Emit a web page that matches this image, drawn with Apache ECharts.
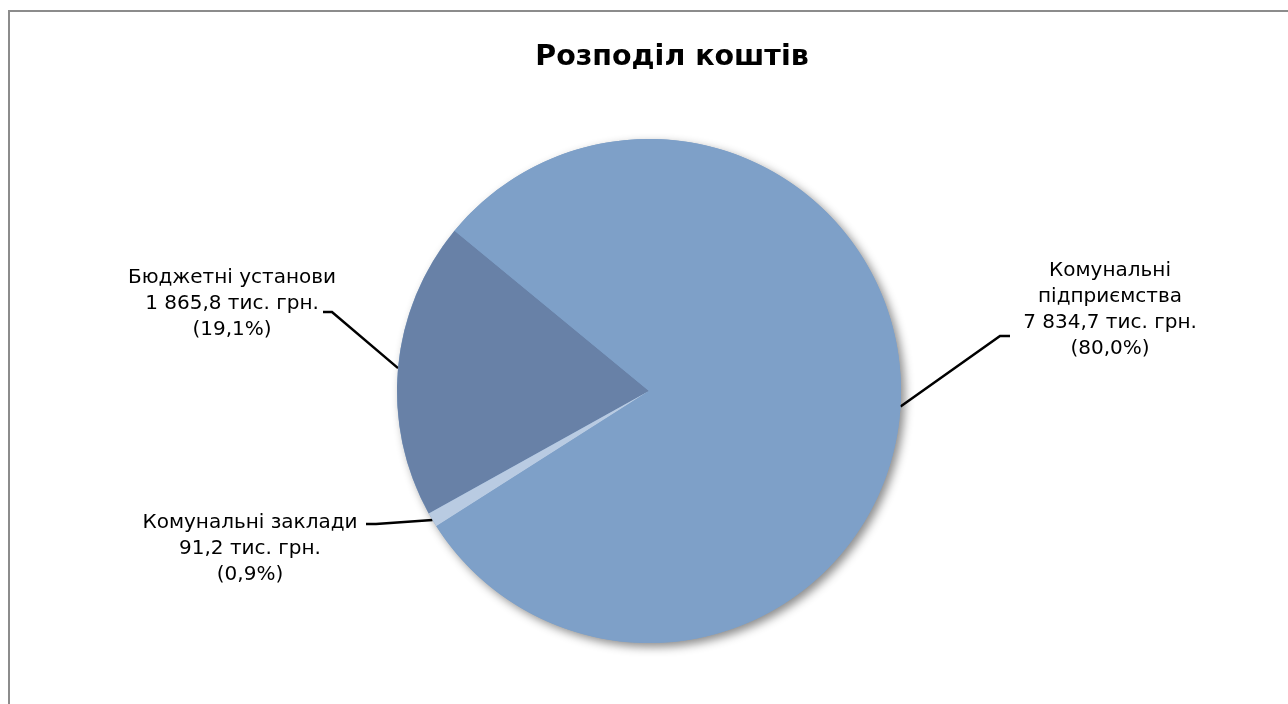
<!DOCTYPE html>
<html>
<head>
<meta charset="utf-8">
<script src="https://cdn.jsdelivr.net/npm/echarts@6/dist/echarts.min.js"></script>
<style>
html,body{margin:0;padding:0;background:#fff;}
#chart{width:1288px;height:704px;}
</style>
</head>
<body>
<div id="chart"></div>
<script>
// ---- data ----
var titleText = 'Розподіл коштів';
var categories = ['Бюджетні установи', 'Комунальні заклади', 'Комунальні\nпідприємства'];
var values = [1865.8, 91.2, 7834.7];
var unit = 'тис. грн.';
var colors = ['#6881A7', '#B9CBE2', '#7EA0C8'];

// ---- layout (not data) ----
var CX = 649, CY = 391, R = 252, START = 140.5;
var labelAnchors = [[232, 304], [250, 549], [1110, 310]];
var labelElbows = [
  [[332, 312], [323, 312]],
  [[376, 524], [366, 524]],
  [[1000, 336], [1010, 336]]
];

var total = values.reduce(function (a, b) { return a + b; }, 0);

function fmtNum(v) {
  var parts = v.toFixed(1).split('.');
  var intPart = parts[0].replace(/\B(?=(\d{3})+(?!\d))/g, ' ');
  return intPart + ',' + parts[1];
}
function fmtPct(v) {
  return (v / total * 100).toFixed(1).replace('.', ',') + '%';
}

// mid angles of slices (counter-clockwise from START)
var midAngles = [];
(function () {
  var a = START;
  for (var i = 0; i < values.length; i++) {
    var span = values[i] / total * 360;
    midAngles.push(a + span / 2);
    a += span;
  }
})();

var chart = echarts.init(document.getElementById('chart'));
var font = '"DejaVu Sans", Verdana, sans-serif';

chart.setOption({
  animation: false,
  backgroundColor: '#ffffff',
  title: {
    text: titleText,
    left: 667,
    top: 38,
    textAlign: 'center',
    textStyle: { fontFamily: font, fontWeight: 'bold', fontSize: 28.5, color: '#000' }
  },
  graphic: [{
    type: 'rect',
    shape: { x: 9, y: 11, width: 1400, height: 800 },
    style: { fill: 'none', stroke: '#8c8c8c', lineWidth: 2 },
    silent: true,
    z: 100
  }],
  series: [
    {
      type: 'pie',
      silent: true,
      center: [CX, CY],
      radius: R,
      z: 1,
      label: { show: false },
      labelLine: { show: false },
      itemStyle: {
        color: '#7EA0C8',
        shadowBlur: 10,
        shadowOffsetX: 4,
        shadowOffsetY: 4,
        shadowColor: 'rgba(0,0,0,0.45)'
      },
      emphasis: { disabled: true },
      data: [{ value: total, name: '' }]
    },
    {
      type: 'pie',
      z: 2,
      center: [CX, CY],
      radius: R,
      startAngle: START,
      clockwise: false,
      silent: true,
      emphasis: { disabled: true },
      itemStyle: { borderWidth: 0 },
      data: categories.map(function (c, i) {
        return { name: c, value: values[i], itemStyle: { color: colors[i] } };
      }),
      label: {
        show: true,
        position: 'outside',
        fontFamily: font,
        fontSize: 20,
        lineHeight: 26,
        color: '#000',
        align: 'center',
        formatter: function (p) {
          return p.name + '\n' + fmtNum(p.value) + ' ' + unit + '\n(' + fmtPct(p.value) + ')';
        }
      },
      labelLine: {
        show: true,
        lineStyle: { color: '#000', width: 2.5 }
      },
      labelLayout: function (params) {
        var i = params.dataIndex;
        var ang = midAngles[i] * Math.PI / 180;
        var ex = CX + R * Math.cos(ang);
        var ey = CY - R * Math.sin(ang);
        var el = labelElbows[i];
        return {
          x: labelAnchors[i][0],
          y: labelAnchors[i][1],
          align: 'center',
          verticalAlign: 'middle',
          labelLinePoints: [[ex, ey], el[0], el[1]]
        };
      }
    }
  ]
});
</script>
</body>
</html>
